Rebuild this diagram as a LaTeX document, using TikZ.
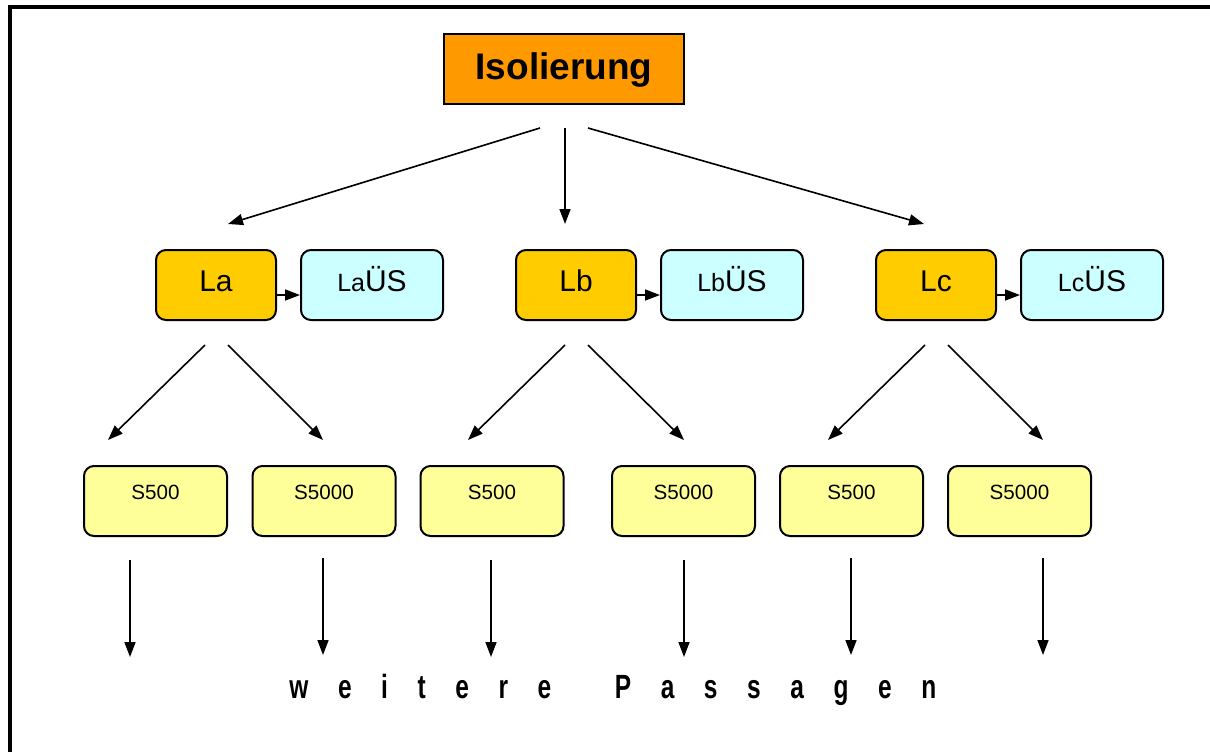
\documentclass[tikz,border=0pt]{standalone}
\usepackage{fontspec}
\setmainfont{Liberation Sans}
\usetikzlibrary{arrows.meta,calc}

\definecolor{isoorange}{HTML}{FF9900}
\definecolor{liniengold}{HTML}{FFCC00}
\definecolor{uebercyan}{HTML}{CCFFFF}
\definecolor{probengelb}{HTML}{FFFF99}

\tikzset{
	pfeil/.style={line width=0.8pt, -{Triangle[length=7.5pt,width=5.5pt]}},
	kasten/.style={draw=black, line width=1pt, rounded corners=5pt,
		minimum height=35pt, inner sep=0pt},
	isokasten/.style={kasten, sharp corners, fill=isoorange, minimum width=120pt,
		font=\bfseries\fontsize{18.5}{22}\selectfont, text height=13.4pt, text depth=3pt},
	linie/.style={kasten, fill=liniengold, minimum width=60pt,
		font=\fontsize{15}{18}\selectfont, text height=10.7pt, text depth=4pt},
	ueber/.style={kasten, fill=uebercyan, minimum width=71pt,
		font=\fontsize{15}{18}\selectfont, text height=10.7pt, text depth=4pt},
	probe/.style={kasten, fill=probengelb, minimum width=71.5pt,
		font=\fontsize{10.3}{12}\selectfont, text height=7.5pt, text depth=9pt}
}
\newcommand{\kleinla}[1]{{\fontsize{12.5}{15}\selectfont #1}}

\begin{document}
\begin{tikzpicture}[x=0.5pt, y=-0.5pt]
	\useasboundingbox (0,0) rectangle (1210,751);
	% Rahmen
	\draw[line width=2pt] (10,7) rectangle (1250,800);
	% Isolierung
	\node[isokasten] (iso) at (564,69) {Isolierung};
	% Linien und Ueberstaende
	\node[linie] (La) at (216,285) {La};
	\node[ueber] (LaUS) at (372,285) {\kleinla{La}ÜS};
	\node[linie] (Lb) at (576,285) {Lb};
	\node[ueber] (LbUS) at (732,285) {\kleinla{Lb}ÜS};
	\node[linie] (Lc) at (936,285) {Lc};
	\node[ueber] (LcUS) at (1092,285) {\kleinla{Lc}ÜS};
	% Proben
	\node[probe] (s500a) at (155.5,501) {S500};
	\node[probe] (s5000a) at (324,501) {S5000};
	\node[probe] (s500b) at (492,501) {S500};
	\node[probe] (s5000b) at (683.5,501) {S5000};
	\node[probe] (s500c) at (851.5,501) {S500};
	\node[probe] (s5000c) at (1019.5,501) {S5000};
	% Pfeile von der Isolierung
	\draw[pfeil] ($(iso.south)+(-24,23)$) -- ($(La.north)+(12,-25)$);
	\draw[pfeil] ($(iso.south)+(1,23)$) -- ($(Lb.north)+(-11,-25)$);
	\draw[pfeil] ($(iso.south)+(24,23)$) -- ($(Lc.north)+(-12,-25)$);
	% Pfeile zu den Ueberstaenden
	\foreach \l/\u in {La/LaUS, Lb/LbUS, Lc/LcUS}
		\draw[pfeil] ($(\l.east)+(0,10)$) -- ($(\u.west)+(0,10)$);
	% Pfeile zu den Proben
	\foreach \l/\a/\b/\da/\db in {La/s500a/s5000a/-47.5/-1, Lb/s500b/s5000b/-24/0.5,
		Lc/s500c/s5000c/-23.5/23.5} {
		\draw[pfeil] ($(\l.south)+(-11,24)$) -- ($(\a.north)+(\da,-25)$);
		\draw[pfeil] ($(\l.south)+(12,24)$) -- ($(\b.north)+(\db,-25)$);
	}
	% weitere Passagen
	\foreach \p/\dx/\dy in {s500a/-25.5/23, s5000a/-1/21, s500b/-1/23,
		s5000b/0.5/23, s500c/-0.5/21, s5000c/23.5/21}
		\draw[pfeil] ($(\p.south)+(\dx,\dy)$) -- ($(\p.south)+(\dx,\dy+97)$);
	\node[anchor=base west, inner sep=0pt, font=\bfseries\fontsize{12}{14}\selectfont]
		(passagen) at (289,698)
		{\scalebox{1.02}[1.4]{\spaceskip=14.5pt w e i t e r e \hspace{16.7pt}P a s s a g e n}};
\end{tikzpicture}
\end{document}
